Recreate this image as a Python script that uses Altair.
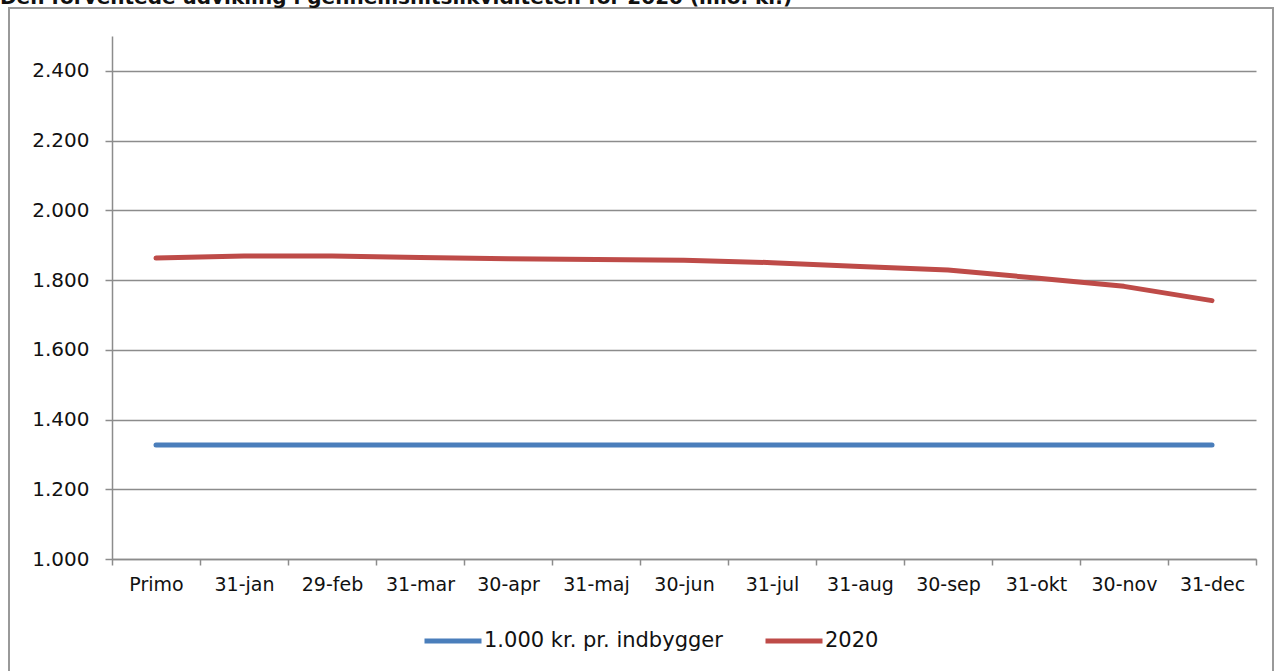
import altair as alt
import pandas as pd

# Month-end dates along the category axis
dates = ["Primo", "31-jan", "29-feb", "31-mar", "30-apr", "31-maj", "30-jun",
         "31-jul", "31-aug", "30-sep", "31-okt", "30-nov", "31-dec"]

# Expected average liquidity 2020 (mio. kr.)
liquidity_2020 = [1863, 1869, 1869, 1865, 1861, 1859, 1857,
                  1850, 1839, 1829, 1806, 1782, 1741]

# Reference level: 1.000 kr. per inhabitant (mio. kr.)
per_inhabitant = [1327] * len(dates)

series_names = ["1.000 kr. pr. indbygger", "2020"]
series_colors = ["#4A7EBB", "#BE4B48"]

rows = []
for d, v in zip(dates, per_inhabitant):
    rows.append({"dato": d, "værdi": v, "serie": series_names[0]})
for d, v in zip(dates, liquidity_2020):
    rows.append({"dato": d, "værdi": v, "serie": series_names[1]})
df = pd.DataFrame(rows)

FONT = "DejaVu Sans"
GRID = "#8C8C8C"

lines = alt.Chart(df).mark_line(strokeWidth=5, strokeCap="round", strokeJoin="round").encode(
    x=alt.X("dato:N", sort=dates, title=None,
            scale=alt.Scale(paddingInner=0, paddingOuter=0),
            axis=alt.Axis(labelAngle=0, labelFont=FONT, labelFontSize=19, labelColor="#111",
                          labelPadding=10, tickBand="extent", tickSize=6, tickColor=GRID,
                          domainColor=GRID, domainWidth=1.5, tickWidth=1.5, grid=False)),
    y=alt.Y("værdi:Q", title=None,
            scale=alt.Scale(domain=[1000, 2500], nice=False, zero=False),
            axis=alt.Axis(values=[1000, 1200, 1400, 1600, 1800, 2000, 2200, 2400],
                          format=",.0f", labelFont=FONT, labelFontSize=20, labelColor="#111",
                          labelPadding=16, tickSize=7, tickColor=GRID, tickWidth=1.5,
                          domainColor=GRID, domainWidth=1.5,
                          grid=True, gridColor=GRID, gridWidth=1.5)),
    color=alt.Color("serie:N", title=None,
                    scale=alt.Scale(domain=series_names, range=series_colors),
                    legend=alt.Legend(orient="none", legendX=310, legendY=574,
                                      direction="horizontal", symbolType="stroke",
                                      symbolSize=3249, symbolStrokeWidth=5,
                                      labelFont=FONT, labelFontSize=21, labelColor="#111",
                                      labelLimit=400, labelOffset=0, columnPadding=32)),
)

# Outer chart frame
frame = alt.Chart(pd.DataFrame({"k": [0]})).mark_rect(
    fill=None, stroke="#999999", strokeWidth=2
).encode(x=alt.value(-103), x2=alt.value(1161), y=alt.value(-28), y2=alt.value(700))

# Chart heading
heading = alt.Chart(pd.DataFrame({"t": ["Den forventede udvikling i gennemsnitslikviditeten for 2020 (mio. kr.)"]})).mark_text(
    align="left", baseline="alphabetic", font=FONT, fontSize=20, fontWeight="bold", color="#111"
).encode(text="t:N", x=alt.value(-112), y=alt.value(-32))

chart = alt.layer(frame, lines, heading).properties(
    width=1144, height=523,
    padding={"left": 112, "top": 36, "right": 18, "bottom": 112},
    autosize=alt.AutoSizeParams(type="none"),
).configure(
    view={"stroke": None},
    locale={"number": {"decimal": ",", "thousands": ".", "grouping": [3], "currency": ["", " kr."]}},
)

chart.save("out.html", embed_options={"renderer": "svg", "actions": False})
